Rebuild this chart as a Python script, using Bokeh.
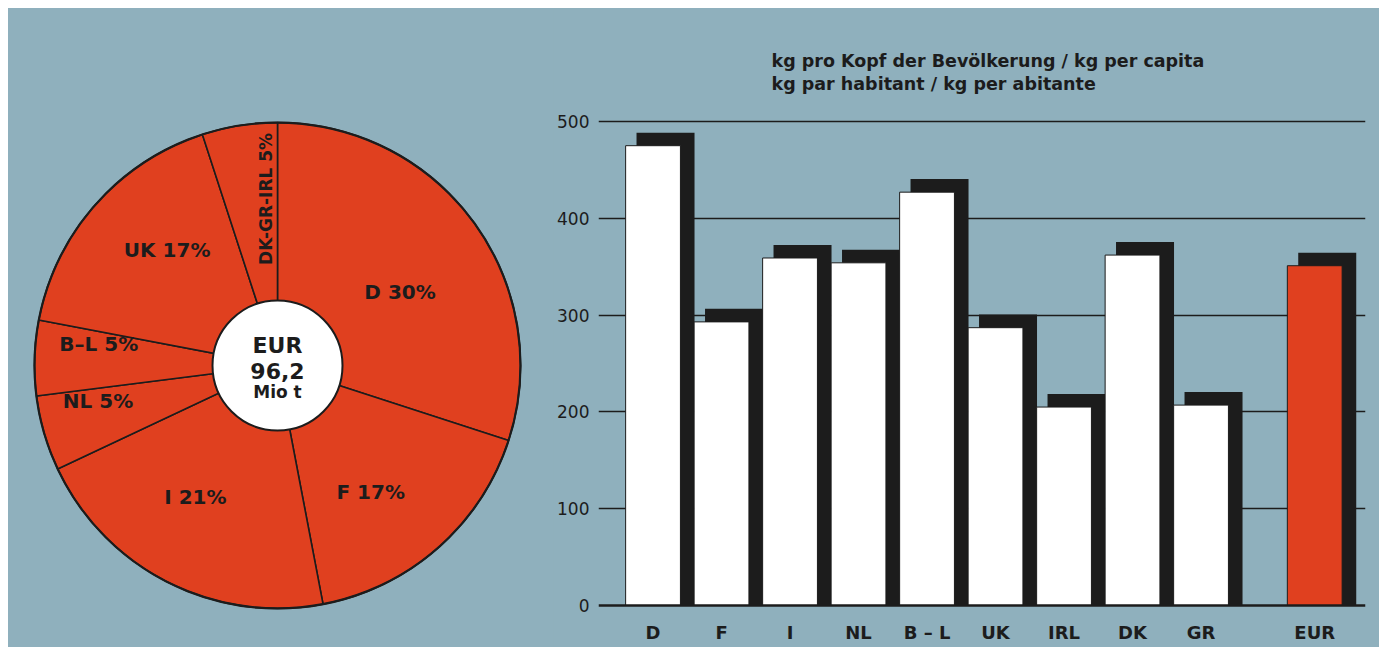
import numpy as np
from bokeh.plotting import figure
from bokeh.layouts import row
from bokeh.models import Range1d, FixedTicker, Label, Span
from bokeh.core.properties import value
from bokeh.embed import file_html
from bokeh.resources import INLINE

# ---------------- data ----------------
pie_labels = ["D 30%", "F 17%", "I 21%", "NL 5%", "B–L 5%", "UK 17%", "DK-GR-IRL 5%"]
pie_shares = [30, 17, 21, 5, 5, 17, 5]
center_lines = ["EUR", "96,2", "Mio t"]

countries = ["D", "F", "I", "NL", "B – L", "UK", "IRL", "DK", "GR"]
per_capita = [475, 293, 359, 354, 427, 287, 205, 362, 207]
eur_label = "EUR"
eur_value = 351
y_ticks = [0, 100, 200, 300, 400, 500]
title_lines = ["kg pro Kopf der Bevölkerung / kg per capita",
               "kg par habitant / kg per abitante"]
unit_label = "kg"

# ---------------- style ----------------
BG = "#8fb0bd"
RED = "#e0401f"
DARK = "#1c1c1c"
FONT = "DejaVu Sans"

# ---------------- pie ----------------
W1, H = 545, 639
p1 = figure(width=W1, height=H, x_range=Range1d(0, W1), y_range=Range1d(0, H),
            min_border=0, output_backend="svg", toolbar_location=None)
p1.axis.visible = False
p1.grid.visible = False
p1.outline_line_color = None
p1.background_fill_color = BG
p1.border_fill_color = BG

cx, cy, R, r_in = 269, 282, 243, 65
shares = np.array(pie_shares, dtype=float) / sum(pie_shares)
cum = np.concatenate([[0.0], np.cumsum(shares)])
start = np.pi / 2 - 2 * np.pi * cum[:-1]
end = np.pi / 2 - 2 * np.pi * cum[1:]
p1.wedge(x=cx, y=cy, radius=R, start_angle=start, end_angle=end, direction="clock",
         fill_color=RED, line_color=DARK, line_width=1.6)
p1.circle(x=cx, y=cy, radius=R, fill_color=None, line_color=DARK, line_width=2.2)
p1.circle(x=cx, y=cy, radius=r_in, fill_color="white", line_color=DARK, line_width=2)

mid = (start + end) / 2 - np.deg2rad(5)
label_r = np.array([143, 157, 155, 183, 180, 160, 167])
label_angle = [0, 0, 0, 0, 0, 0, np.pi / 2]
label_size = ["20px"] * 6 + ["17px"]
p1.text(x=cx + label_r * np.cos(mid), y=cy + label_r * np.sin(mid), text=pie_labels,
        angle=label_angle, text_font=value(FONT), text_font_style="bold",
        text_font_size=label_size, text_align="center", text_baseline="middle",
        text_color=DARK)

center_dy = [20, -5, -26]
center_size = ["22px", "22px", "17px"]
p1.text(x=[cx] * 3, y=[cy + d for d in center_dy], text=center_lines,
        text_font=value(FONT), text_font_style="bold", text_font_size=center_size,
        text_align="center", text_baseline="middle", text_color=DARK)

# ---------------- bars ----------------
W2 = 826
px_per_kg = 0.968
slot_px = 68.5
border_left, border_right = 45, 14
base_from_bottom = 42          # px between baseline and figure bottom
frame_w = W2 - border_left - border_right
x_start = -0.796
p2 = figure(width=W2, height=H,
            x_range=Range1d(x_start, x_start + frame_w / slot_px),
            y_range=Range1d(-base_from_bottom / px_per_kg,
                            (H - base_from_bottom) / px_per_kg),
            min_border_left=border_left, min_border_right=border_right,
            min_border_top=0, min_border_bottom=0,
            output_backend="svg", toolbar_location=None)
p2.outline_line_color = None
p2.background_fill_color = BG
p2.border_fill_color = BG

xs = np.arange(len(countries), dtype=float)
x_eur = len(countries) + 0.66
vals = np.array(per_capita, dtype=float)

bar_w = 0.80
sh_dx = 12.5 / slot_px
sh_w = 58 / slot_px
sh_dy = 13.5

p2.vbar(x=xs + sh_dx, top=vals + sh_dy, width=sh_w, bottom=0,
        fill_color=DARK, line_color=None)
p2.vbar(x=[x_eur + sh_dx], top=[eur_value + sh_dy], width=sh_w, bottom=0,
        fill_color=DARK, line_color=None)
p2.vbar(x=xs, top=vals, width=bar_w, bottom=0,
        fill_color="white", line_color=DARK, line_width=1)
p2.vbar(x=[x_eur], top=[eur_value], width=bar_w, bottom=0,
        fill_color=RED, line_color=DARK, line_width=1)

p2.xgrid.visible = False
p2.ygrid.ticker = FixedTicker(ticks=y_ticks[1:])
p2.ygrid.grid_line_color = DARK
p2.ygrid.grid_line_width = 1.4
p2.add_layout(Span(location=0, dimension="width", line_color=DARK, line_width=2.5))

p2.xaxis.visible = False
p2.yaxis.ticker = FixedTicker(ticks=y_ticks)
p2.yaxis.axis_line_color = None
p2.yaxis.major_tick_line_color = None
p2.yaxis.minor_tick_line_color = None
p2.yaxis.major_label_standoff = 3
p2.yaxis.major_label_text_font = FONT
p2.yaxis.major_label_text_font_size = "17px"
p2.yaxis.major_label_text_color = DARK

# category labels under the baseline
tick_pos = list(xs) + [x_eur]
label_y = -27 / px_per_kg
p2.text(x=tick_pos, y=[label_y] * len(tick_pos), text=countries + [eur_label],
        text_font=value(FONT), text_font_style="bold", text_font_size="18px",
        text_align="center", text_baseline="middle", text_color=DARK)

title_x = 1.73
for i, line in enumerate(title_lines):
    p2.add_layout(Label(x=title_x, y=563 - 24 * i, text=line, text_font=FONT,
                        text_font_style="bold", text_font_size="17.5px",
                        text_baseline="middle", text_color=DARK))
p2.add_layout(Label(x=-1.117, y=534, text=unit_label, text_font=FONT,
                    text_font_style="bold", text_font_size="17px",
                    text_align="center", text_baseline="middle", text_color=DARK))

layout = row(p1, p2, margin=(8, 8, 8, 8), styles={"background-color": BG})
open("out.html", "w").write(file_html(layout, INLINE))
